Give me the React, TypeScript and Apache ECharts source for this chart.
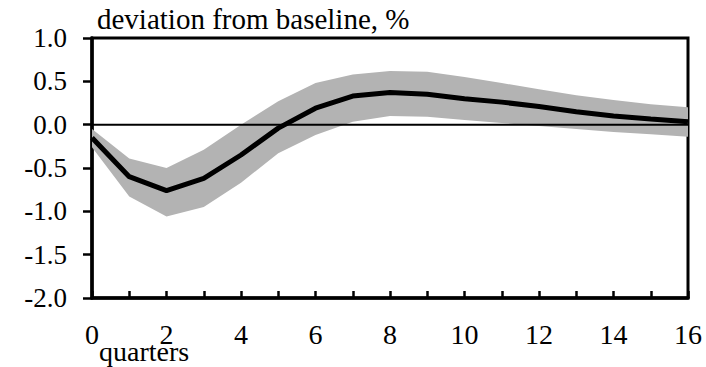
import React, { useEffect, useRef } from "react";
import * as echarts from "echarts";

const quarters = [0, 1, 2, 3, 4, 5, 6, 7, 8, 9, 10, 11, 12, 13, 14, 15, 16];
const response = [-0.15, -0.6, -0.76, -0.62, -0.35, -0.04, 0.19, 0.33, 0.37, 0.35, 0.3, 0.26, 0.21, 0.15, 0.1, 0.065, 0.035];
const upperBand = [-0.05, -0.39, -0.5, -0.29, 0.0, 0.27, 0.48, 0.58, 0.62, 0.61, 0.55, 0.48, 0.41, 0.34, 0.285, 0.235, 0.2];
const lowerBand = [-0.26, -0.83, -1.06, -0.95, -0.67, -0.33, -0.12, 0.035, 0.1, 0.09, 0.054, 0.02, -0.015, -0.05, -0.085, -0.11, -0.14];
const yTicks = [-2.0, -1.5, -1.0, -0.5, 0.0, 0.5, 1.0];
const xTicks = [0, 2, 4, 6, 8, 10, 12, 14, 16];
const yTitle = "deviation from baseline, %";
const xTitle = "quarters";

const FONT = "Liberation Serif";

export default function App() {
  const ref = useRef<HTMLDivElement>(null);
  useEffect(() => {
    document.body.style.margin = "0";
    if (!ref.current) return;
    const chart = echarts.init(ref.current, null, { renderer: "svg" });
    const bandData = quarters.map((q, i) => [q, upperBand[i], lowerBand[i]]);
    const lineData = quarters.map((q, i) => [q, response[i]]);
    chart.setOption({
      animation: false,
      textStyle: { fontFamily: FONT },
      grid: {
        left: 92,
        right: 18,
        top: 38,
        bottom: 69,
        show: true,
        borderColor: "#000",
        borderWidth: 3,
        backgroundColor: "transparent",
      },
      xAxis: {
        type: "value",
        min: xTicks[0],
        max: xTicks[xTicks.length - 1],
        interval: 2,
        axisLine: { show: true, onZero: false, lineStyle: { color: "#000", width: 3.5 } },
        axisTick: { show: true, inside: true, length: 7, lineStyle: { color: "#000", width: 2.5 } },
        minorTick: { show: true, splitNumber: 2, length: 7, lineStyle: { color: "#000", width: 2.5 } },
        splitLine: { show: false },
        axisLabel: {
          color: "#000",
          fontSize: 28,
          fontFamily: FONT,
          margin: 22,
          formatter: (v: number) => String(v),
        },
      },
      yAxis: {
        type: "value",
        min: yTicks[0],
        max: yTicks[yTicks.length - 1],
        interval: 0.5,
        axisLine: { show: true, lineStyle: { color: "#000", width: 3.5 } },
        axisTick: { show: true, inside: false, length: 9, lineStyle: { color: "#000", width: 2.5 } },
        splitLine: { show: false },
        axisLabel: {
          color: "#000",
          fontSize: 27,
          fontFamily: FONT,
          margin: 25,
          formatter: (v: number) => v.toFixed(1),
        },
      },
      graphic: [
        {
          type: "text",
          left: 97,
          top: 4,
          style: { text: yTitle, fontSize: 29, fontFamily: FONT, fill: "#000" },
        },
        {
          type: "text",
          left: 99,
          top: 337,
          style: { text: xTitle, fontSize: 28, fontFamily: FONT, fill: "#000" },
        },
      ],
      series: [
        {
          type: "custom",
          data: bandData,
          encode: { x: 0, y: [1, 2] },
          silent: true,
          z: 1,
          renderItem: (params: any, api: any) => {
            if (params.dataIndex !== 0) return null;
            const top = quarters.map((q, i) => api.coord([q, upperBand[i]]));
            const bottom = quarters.map((q, i) => api.coord([q, lowerBand[i]])).reverse();
            return {
              type: "polygon",
              shape: { points: top.concat(bottom) },
              style: { fill: "#b3b3b3", stroke: "none" },
            };
          },
        },
        {
          type: "line",
          data: [[xTicks[0], 0], [xTicks[xTicks.length - 1], 0]],
          symbol: "none",
          lineStyle: { color: "#000", width: 2 },
          silent: true,
          z: 2,
        },
        {
          type: "line",
          data: lineData,
          symbol: "none",
          lineStyle: { color: "#000", width: 5 },
          z: 3,
        },
      ],
    });
    return () => chart.dispose();
  }, []);
  return <div ref={ref} style={{ width: 706, height: 367 }} />;
}
